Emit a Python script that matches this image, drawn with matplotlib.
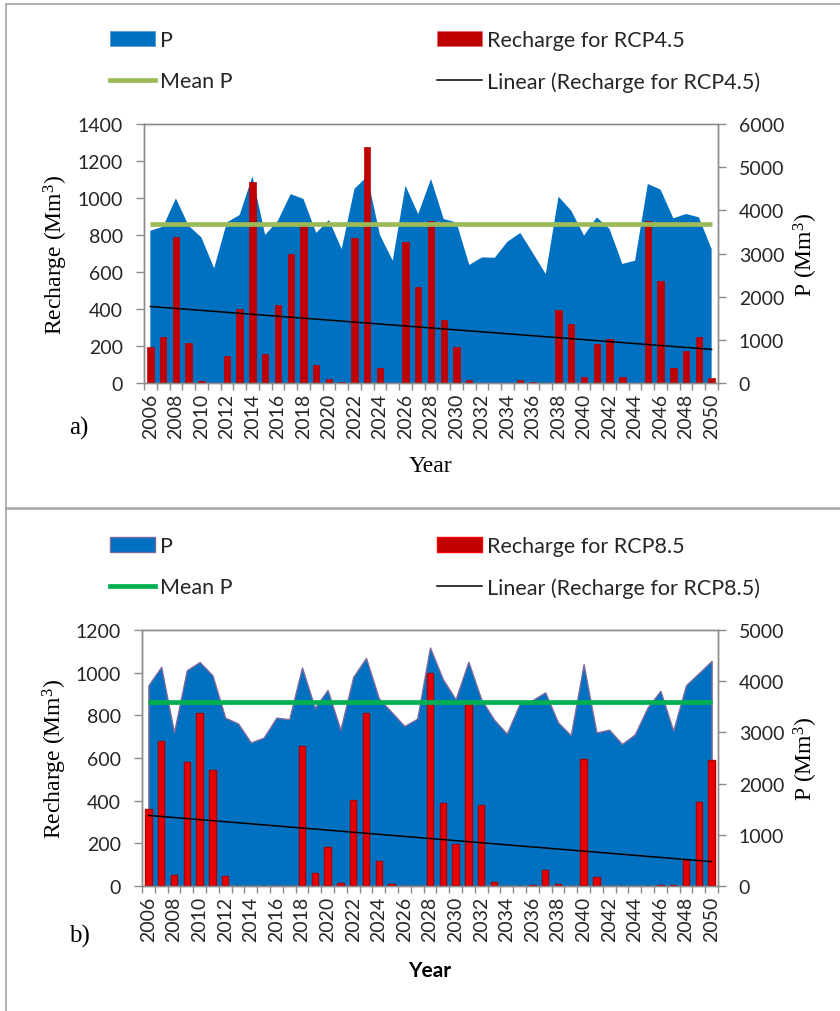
import numpy as np
import matplotlib.pyplot as plt
from matplotlib.lines import Line2D
from matplotlib.patches import Patch

plt.rcParams['font.family'] = ['Lato', 'DejaVu Sans']
plt.rcParams['mathtext.fontset'] = 'custom'
plt.rcParams['mathtext.rm'] = 'Liberation Serif'
plt.rcParams['mathtext.it'] = 'Liberation Serif:italic'

years = np.arange(2006, 2051)

# panel a) RCP4.5
p_45 = [3527, 3621, 4277, 3643, 3373, 2657, 3720, 3891, 4787, 3429,
        3759, 4376, 4264, 3476, 3776, 3103, 4496, 4787, 3429, 2833,
        4569, 3913, 4727, 3797, 3720, 2734, 2910, 2901, 3274, 3476,
        3004, 2524, 4316, 3990, 3413, 3838, 3568, 2757, 2834, 4610,
        4479, 3815, 3915, 3838, 3104]
recharge_45 = [193, 247, 787, 216, 13, 0, 148, 400, 1088, 155,
               423, 695, 854, 99, 22, 7, 782, 1274, 81, 0,
               764, 519, 877, 339, 193, 15, 0, 0, 0, 14,
               7, 0, 393, 317, 32, 213, 238, 31, 0, 876,
               551, 79, 175, 249, 27]

# panel b) RCP8.5
p_85 = [3921, 4279, 3000, 4213, 4375, 4117, 3288, 3175, 2804, 2896,
        3288, 3258, 4267, 3479, 3829, 3050, 4083, 4454, 3667, 3396,
        3125, 3267, 4658, 4042, 3646, 4380, 3650, 3250, 2975, 3555,
        3630, 3782, 3195, 2942, 4331, 3000, 3052, 2773, 2961, 3487,
        3812, 3032, 3922, 4156, 4396]
recharge_85 = [362, 681, 53, 583, 810, 544, 45, 0, 0, 0,
               0, 0, 658, 62, 182, 16, 405, 810, 119, 9,
               0, 0, 1000, 390, 195, 855, 380, 20, 0, 0,
               4, 74, 9, 0, 595, 42, 0, 0, 0, 0,
               6, 3, 120, 393, 592]

AXIS_GRAY = '#8C8C8C'
TXT = '#262626'

fig = plt.figure(figsize=(8.4, 10.12), dpi=100)


def panel(rect, p, rech, rmax, rstep, pmax, cfg):
    ax = fig.add_axes(rect)
    axp = ax.twinx()
    ax.set_zorder(axp.get_zorder() + 1)
    ax.patch.set_visible(False)

    axp.fill_between(years, p, 0, facecolor='#0070C0',
                     edgecolor=cfg['area_edge'], linewidth=cfg['area_lw'])
    ax.bar(years, rech, width=0.5, color=cfg['bar'], edgecolor=cfg['bar_edge'],
           linewidth=cfg['bar_lw'])
    # mean P on the P axis but drawn over the bars
    ax.plot(years, np.full(len(years), np.mean(p)), color=cfg['mean'], lw=3.4,
            transform=axp.transData, solid_capstyle='butt')
    k, b = np.polyfit(years, rech, 1)
    ax.plot(years, k * years + b, color='black', lw=1.1)

    ax.set_xlim(2005.5, 2050.5)
    ax.set_ylim(0, rmax)
    axp.set_ylim(0, pmax)
    ax.set_yticks(np.arange(0, rmax + 1, rstep))
    axp.set_yticks(np.arange(0, pmax + 1, 1000))
    ax.set_xticks(years[::2])
    ax.set_xticklabels([str(y) for y in years[::2]], rotation=90)
    ax.set_xticks(np.arange(2005.5, 2051, 1), minor=True)

    for a in (ax, axp):
        for s in a.spines.values():
            s.set_color(AXIS_GRAY)
            s.set_linewidth(1)
        a.tick_params(axis='y', direction='out', length=6, width=1,
                      color=AXIS_GRAY, pad=9, labelsize=14, labelcolor=TXT)
    ax.tick_params(axis='x', which='major', length=0, pad=7,
                   labelsize=14, labelcolor=TXT)
    ax.tick_params(axis='x', which='minor', length=5, width=1, color=AXIS_GRAY)

    ax.set_ylabel('Recharge (Mm$^3$)', fontfamily='Liberation Serif',
                  fontsize=17, color='black')
    ax.yaxis.set_label_coords(cfg['ylab_x'], 0.5)
    axp.set_ylabel('P (Mm$^3$)', fontfamily='Liberation Serif', fontsize=17,
                   rotation=90, color='black')
    axp.yaxis.set_label_coords(cfg['plab_x'], 0.5)
    return ax


def fx(px):
    return px / 840


def fy(py):
    return 1 - py / 1012


cfg_a = dict(area_edge='none', area_lw=0, bar='#C00000', bar_edge='#C00000',
             bar_lw=0.5, mean='#9BBB59', ylab_x=-0.129, plab_x=1.128)
cfg_b = dict(area_edge='#7E6A9E', area_lw=1.0, bar='#E80000', bar_edge='#B00000',
             bar_lw=1.0, mean='#00B050', ylab_x=-0.126, plab_x=1.128)

panel([fx(144), fy(384), fx(574), 259 / 1012], p_45, recharge_45,
      1400, 200, 6000, cfg_a)
panel([fx(142), fy(887), fx(576), 256 / 1012], p_85, recharge_85,
      1200, 200, 5000, cfg_b)


def legend_col(handles, labels, x, ytop):
    fig.legend(handles=handles, labels=labels, loc='upper left',
               bbox_to_anchor=(fx(x), fy(ytop)), frameon=False, borderpad=0,
               borderaxespad=0, handlelength=2.1, handletextpad=0.23,
               labelspacing=0.98, fontsize=15.5, labelcolor=TXT)


legend_col([Patch(facecolor='#0070C0', edgecolor='#5B9BD5', lw=0.6),
            Line2D([], [], color='#9BBB59', lw=3.4)],
           ['P', 'Mean P'], 110, 31)
legend_col([Patch(facecolor='#C00000', edgecolor='#E06666', lw=0.6),
            Line2D([], [], color='black', lw=1.1)],
           ['Recharge for RCP4.5', 'Linear (Recharge for RCP4.5)'], 437, 31)
legend_col([Patch(facecolor='#0070C0', edgecolor='#7E6A9E', lw=1.0),
            Line2D([], [], color='#00B050', lw=3.4)],
           ['P', 'Mean P'], 110, 537)
legend_col([Patch(facecolor='#C00000', edgecolor='#FF0000', lw=1.0),
            Line2D([], [], color='black', lw=1.1)],
           ['Recharge for RCP8.5', 'Linear (Recharge for RCP8.5)'], 437, 537)

fig.text(fx(430), fy(467), 'Year', fontfamily='Liberation Serif', fontsize=17,
         ha='center', va='center')
fig.text(fx(430), fy(971), 'Year', fontfamily='Lato', fontweight='bold',
         fontsize=15, ha='center', va='center')
fig.text(fx(79), fy(428), 'a)', fontfamily='Liberation Serif', fontsize=18,
         ha='center', va='center')
fig.text(fx(79), fy(936), 'b)', fontfamily='Liberation Serif', fontsize=18,
         ha='center', va='center')

# frame lines around the two panels
fig.add_artist(Line2D([fx(6), fx(6)], [0, fy(5)], transform=fig.transFigure,
                      color='#A6A6A6', lw=1.2))
fig.add_artist(Line2D([fx(6), 1], [fy(5), fy(5)], transform=fig.transFigure,
                      color='#A6A6A6', lw=1.2))
fig.add_artist(Line2D([fx(6), 1], [fy(509), fy(509)], transform=fig.transFigure,
                      color='#A6A6A6', lw=1.8))

fig.savefig('out.png', dpi=100)
